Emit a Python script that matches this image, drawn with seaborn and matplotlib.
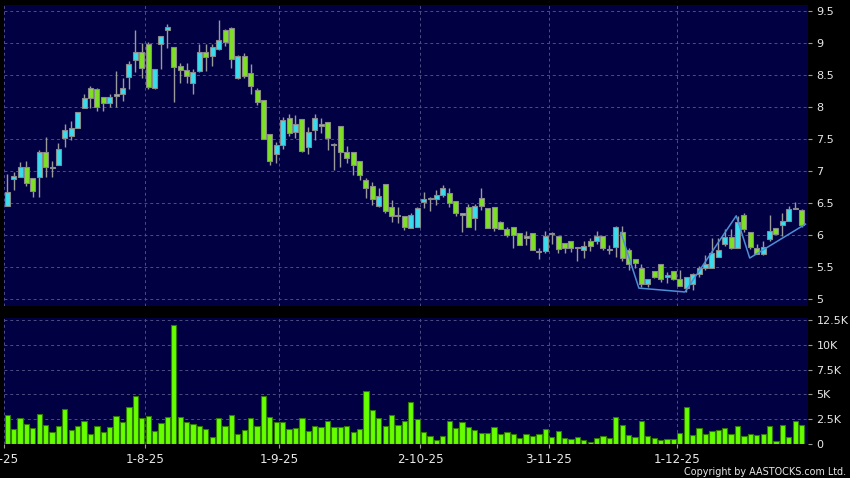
import matplotlib
matplotlib.use("Agg")
import matplotlib.pyplot as plt
import matplotlib.transforms as mtransforms
import numpy as np
import pandas as pd
import seaborn as sns

# ---------------- data ----------------
opens = [6.46, 6.87, 6.90, 7.07, 6.89, 6.90, 7.29, 7.07, 7.10, 7.51,
         7.54, 7.67, 7.98, 8.29, 8.28, 8.16, 8.06, 8.17, 8.21, 8.47,
         8.74, 8.86, 8.98, 8.30, 8.98, 9.20, 8.93, 8.64, 8.58, 8.38,
         8.56, 8.86, 8.80, 8.90, 9.21, 9.24, 8.46, 8.79, 8.53, 8.27,
         8.11, 7.58, 7.26, 7.41, 7.83, 7.61, 7.82, 7.38, 7.64, 7.74,
         7.77, 7.40, 7.70, 7.30, 7.30, 7.16, 6.86, 6.76, 6.46, 6.79,
         6.44, 6.30, 6.30, 6.11, 6.12, 6.51, 6.56, 6.56, 6.62, 6.66,
         6.53, 6.32, 6.44, 6.26, 6.58, 6.42, 6.44, 6.20, 6.09, 6.12,
         6.03, 5.95, 6.03, 5.73, 5.75, 6.01, 5.99, 5.87, 5.91, 5.80,
         5.77, 5.91, 5.91, 5.98, 5.76, 5.81, 6.05, 5.77, 5.63, 5.48,
         5.23, 5.44, 5.54, 5.34, 5.44, 5.32, 5.17, 5.24, 5.39, 5.49,
         5.48, 5.66, 5.86, 5.97, 5.80, 6.31, 6.04, 5.79, 5.71, 5.93,
         6.11, 6.16, 6.22, 6.41, 6.39]
highs = [6.96, 6.98, 7.14, 7.16, 6.89, 7.33, 7.53, 7.15, 7.43, 7.74,
         7.78, 7.92, 8.21, 8.33, 8.30, 8.16, 8.21, 8.56, 8.46, 8.72,
         9.20, 9.00, 9.01, 8.60, 9.11, 9.29, 8.93, 8.69, 8.69, 8.60,
         8.98, 8.98, 8.98, 9.36, 9.22, 9.25, 8.82, 8.85, 8.67, 8.30,
         8.11, 7.58, 7.46, 7.84, 7.89, 7.87, 7.82, 7.68, 7.89, 7.83,
         7.77, 7.44, 7.70, 7.39, 7.30, 7.16, 6.89, 6.83, 6.74, 6.79,
         6.54, 6.44, 6.30, 6.34, 6.44, 6.67, 6.59, 6.70, 6.78, 6.73,
         6.53, 6.32, 6.48, 6.48, 6.74, 6.42, 6.44, 6.22, 6.13, 6.12,
         6.03, 6.06, 6.03, 5.80, 6.06, 6.05, 5.99, 5.87, 5.91, 5.80,
         5.91, 5.96, 6.07, 5.98, 5.85, 6.14, 6.14, 5.80, 5.63, 5.55,
         5.32, 5.44, 5.54, 5.42, 5.44, 5.45, 5.35, 5.40, 5.52, 5.68,
         5.96, 5.96, 6.09, 6.09, 6.30, 6.35, 6.04, 5.86, 5.90, 6.32,
         6.11, 6.34, 6.46, 6.51, 6.41]
lows = [6.45, 6.70, 6.90, 6.76, 6.60, 6.60, 6.91, 6.90, 7.10, 7.38,
        7.49, 7.67, 7.98, 7.98, 7.93, 7.93, 8.00, 8.00, 8.09, 8.28,
        8.54, 8.46, 8.28, 8.28, 8.60, 8.92, 8.08, 8.38, 8.38, 8.20,
        8.55, 8.56, 8.64, 8.89, 8.95, 8.61, 8.44, 8.45, 8.21, 8.03,
        7.50, 7.10, 7.13, 7.34, 7.55, 7.52, 7.29, 7.27, 7.48, 7.59,
        7.33, 7.02, 7.06, 7.13, 6.93, 6.86, 6.58, 6.47, 6.44, 6.34,
        6.20, 6.19, 6.08, 6.11, 6.12, 6.42, 6.38, 6.47, 6.60, 6.44,
        6.30, 6.05, 6.13, 6.08, 6.39, 6.11, 6.06, 6.09, 5.97, 5.80,
        5.85, 5.85, 5.77, 5.62, 5.72, 5.86, 5.72, 5.72, 5.74, 5.59,
        5.64, 5.75, 5.86, 5.76, 5.71, 5.65, 5.60, 5.45, 5.48, 5.19,
        5.18, 5.33, 5.27, 5.25, 5.30, 5.21, 5.11, 5.14, 5.34, 5.45,
        5.48, 5.66, 5.83, 5.78, 5.80, 6.05, 5.78, 5.71, 5.69, 5.90,
        6.02, 5.99, 6.22, 6.41, 6.12]
closes = [6.67, 6.92, 7.07, 6.82, 6.68, 7.29, 7.07, 7.04, 7.35, 7.64,
          7.67, 7.92, 8.14, 8.14, 8.00, 8.06, 8.16, 8.21, 8.29, 8.67,
          8.86, 8.61, 8.32, 8.60, 9.11, 9.25, 8.63, 8.58, 8.49, 8.55,
          8.86, 8.78, 8.94, 9.05, 9.01, 8.75, 8.79, 8.49, 8.33, 8.08,
          7.50, 7.16, 7.41, 7.80, 7.60, 7.74, 7.32, 7.61, 7.83, 7.70,
          7.52, 7.40, 7.30, 7.21, 7.10, 6.93, 6.73, 6.56, 6.61, 6.38,
          6.30, 6.30, 6.13, 6.32, 6.42, 6.56, 6.56, 6.62, 6.73, 6.50,
          6.34, 6.32, 6.13, 6.46, 6.45, 6.11, 6.11, 6.09, 6.00, 6.00,
          5.85, 5.98, 5.77, 5.73, 5.99, 6.01, 5.78, 5.79, 5.80, 5.80,
          5.83, 5.83, 5.98, 5.80, 5.76, 6.12, 5.64, 5.55, 5.56, 5.23,
          5.32, 5.35, 5.31, 5.38, 5.32, 5.21, 5.34, 5.39, 5.48, 5.54,
          5.72, 5.77, 5.97, 5.80, 6.20, 6.09, 5.81, 5.71, 5.81, 6.06,
          6.02, 6.22, 6.41, 6.41, 6.16]
volumes_k = [2.97, 1.55, 2.60, 2.06, 1.62, 3.07, 1.96, 1.25, 1.79, 3.51,
             1.45, 1.86, 2.36, 1.01, 1.82, 1.25, 1.69, 2.87, 2.20, 3.68,
             4.86, 2.60, 2.87, 1.28, 2.09, 2.77, 11.96, 2.70, 2.26, 2.03,
             1.79, 1.52, 0.68, 2.64, 1.82, 2.94, 1.05, 1.39, 2.64, 1.82,
             4.80, 2.77, 2.26, 2.26, 1.55, 1.66, 2.64, 1.28, 1.86, 1.76,
             2.36, 1.72, 1.72, 1.82, 1.25, 1.52, 5.30, 3.38, 2.64, 1.86,
             2.91, 1.96, 2.33, 4.22, 2.50, 1.25, 0.84, 0.44, 0.78, 2.30,
             1.62, 2.26, 1.69, 1.45, 1.11, 1.11, 1.69, 1.01, 1.25, 1.01,
             0.61, 1.05, 0.81, 0.98, 1.55, 0.74, 1.28, 0.64, 0.47, 0.71,
             0.41, 0.24, 0.57, 0.81, 0.64, 2.70, 1.93, 0.95, 0.71, 2.33,
             0.84, 0.64, 0.44, 0.47, 0.47, 1.15, 3.75, 0.88, 1.62, 1.01,
             1.35, 1.45, 1.62, 0.98, 1.86, 0.78, 1.01, 0.91, 1.01, 1.82,
             0.34, 1.93, 0.71, 2.36, 1.93]
zigzag_x = [95.8, 98.6, 105.8, 113.8, 115.9, 124.6]
zigzag_y = [6.04, 5.17, 5.11, 6.30, 5.64, 6.17]

month_tick_pos = [-0.5, 21.5, 42.5, 64.5, 84.5, 104.5]
month_tick_labels = ["2-7-25", "1-8-25", "1-9-25", "2-10-25", "3-11-25", "1-12-25"]
price_ticks = [5, 5.5, 6, 6.5, 7, 7.5, 8, 8.5, 9, 9.5]
price_tick_labels = ["5", "5.5", "6", "6.5", "7", "7.5", "8", "8.5", "9", "9.5"]
vol_ticks = [0, 2.5, 5, 7.5, 10, 12.5]
vol_tick_labels = ["0", "2.5K", "5K", "7.5K", "10K", "12.5K"]

# ---------------- styling ----------------
BG = "#000000"
PANEL = "#010042"
GRID = "#4e4e80"
UP = "#36DDEE"
DOWN = "#7EE022"
FLAT = "#A8B0A0"
EDGE = "#8a8a8a"
WICK = "#9a9a9a"
VOL = "#66FF00"
VOL_EDGE = "#2f7a00"
TXT = "#E8E8E8"

plt.rcParams["font.family"] = ["DejaVu Sans"]

df = pd.DataFrame({"o": opens, "h": highs, "l": lows, "c": closes, "v": volumes_k})
df["i"] = np.arange(len(df))
df["bottom"] = df[["o", "c"]].min(axis=1)
df["height"] = (df["c"] - df["o"]).abs().clip(lower=0.018)
df["col"] = np.where(df["c"] > df["o"], UP, np.where(df["c"] < df["o"], DOWN, FLAT))

fig = plt.figure(figsize=(8.5, 4.78), dpi=100, facecolor=BG)
ax1 = fig.add_axes([4 / 850, 1 - 306 / 478, 804 / 850, 301 / 478])
ax2 = fig.add_axes([4 / 850, 1 - 444 / 478, 804 / 850, 126 / 478])

for ax in (ax1, ax2):
    ax.set_facecolor(PANEL)
    for s in ax.spines.values():
        s.set_visible(False)
    ax.set_xlim(-0.5, 125)

# price panel
ax1.vlines(df["i"], df["l"], df["h"], color=WICK, lw=1.0, zorder=2)
ax1.bar(df["i"], df["height"], bottom=df["bottom"], width=0.78,
        color=df["col"], edgecolor=EDGE, linewidth=0.8, zorder=3)
sns.lineplot(x=zigzag_x, y=zigzag_y, ax=ax1, color="#4c8fd6", lw=1.1,
             sort=False, estimator=None, zorder=4)
ax1.set_ylim(9.5 - (306 - 11) / 64, 9.5 + 6 / 64)
ax1.set_yticks(price_ticks)
ax1.set_yticklabels(price_tick_labels)
ax1.yaxis.tick_right()
ax1.set_xticks(month_tick_pos)
ax1.tick_params(axis="x", bottom=False, labelbottom=False)
ax1.tick_params(axis="y", colors="#9a9a9a", labelcolor=TXT, length=3, width=0.8,
                pad=3, labelsize=8)
ax1.grid(True, color=GRID, lw=0.7, ls=(0, (3, 3)))
ax1.set_axisbelow(True)
ax1.set_xlabel("")
ax1.set_ylabel("")

# volume panel
sns.barplot(data=df, x="i", y="v", ax=ax2, native_scale=True, color=VOL,
            saturation=1, edgecolor=VOL_EDGE, linewidth=0.8, width=0.82,
            errorbar=None, zorder=3)
ax2.set_xlim(-0.5, 125)
ax2.set_ylim(0, 12.5 + (320 - 318) / 9.86)
ax2.set_yticks(vol_ticks)
ax2.set_yticklabels(vol_tick_labels)
ax2.yaxis.tick_right()
ax2.set_xticks(month_tick_pos)
ax2.set_xticklabels(month_tick_labels)
ax2.tick_params(axis="x", colors="#9a9a9a", labelcolor=TXT, length=3, width=0.8,
                pad=3.5, labelsize=8.6)
ax2.tick_params(axis="y", colors="#9a9a9a", labelcolor=TXT, length=3, width=0.8,
                pad=3, labelsize=8)
ax2.grid(True, color=GRID, lw=0.7, ls=(0, (3, 3)))
ax2.set_axisbelow(True)
ax2.set_xlabel("")
ax2.set_ylabel("")

# the first month label sits partly off the left edge, as in the reference
first = ax2.get_xticklabels()[0]
first.set_transform(first.get_transform() +
                    mtransforms.ScaledTranslation(-5 / 100, 0, fig.dpi_scale_trans))

fig.text(0.995, 0.002, "Copyright by AASTOCKS.com Ltd.", ha="right", va="bottom",
         color=TXT, fontsize=6.9)

fig.savefig("out.png", dpi=100, facecolor=BG)
